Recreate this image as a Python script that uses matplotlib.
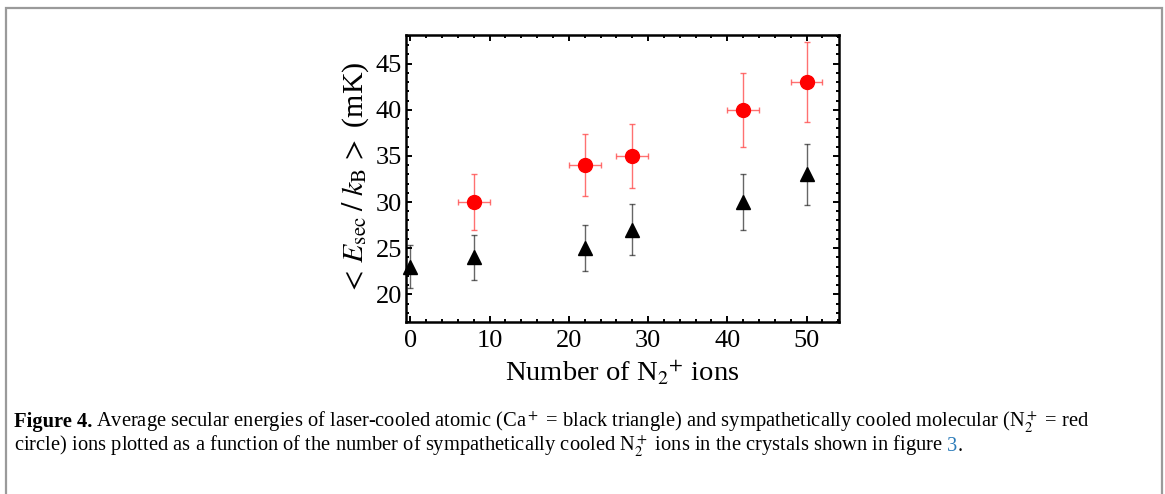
import matplotlib
matplotlib.use("Agg")
import matplotlib.pyplot as plt
from matplotlib.patches import Rectangle
from matplotlib.ticker import MultipleLocator

plt.rcParams["font.family"] = ["Liberation Serif", "DejaVu Serif"]
plt.rcParams["mathtext.fontset"] = "stix"

# N2+ (red circles)
mol_n = [8, 22, 28, 42, 50]
mol_e = [30, 34, 35, 40, 43]
mol_yerr = [3.0, 3.4, 3.5, 4.0, 4.3]
mol_xerr = [2, 2, 2, 2, 2]

# Ca+ (black triangles)
atom_n = [0, 8, 22, 28, 42, 50]
atom_e = [23, 24, 25, 27, 30, 33]
atom_yerr = [2.3, 2.4, 2.5, 2.75, 3.0, 3.3]

xticks = [0, 10, 20, 30, 40, 50]
yticks = [20, 25, 30, 35, 40, 45]

W, H = 1165, 494
fig = plt.figure(figsize=(W / 100, H / 100), dpi=100)

# thin grey frame round the figure (bottom edge is cut off)
fig.patches.append(Rectangle((6 / W, -0.1), 1156 / W, 1.1 - 8.5 / H,
                             transform=fig.transFigure, fill=False,
                             edgecolor="#9a9a9a", lw=1.6))

ax = fig.add_axes([406 / W, 1 - 322 / H, 433 / W, 287 / H])

ax.errorbar(mol_n, mol_e, yerr=mol_yerr, xerr=mol_xerr, fmt="o", color="red",
            ms=10, ecolor=(1, 0.3, 0.3, 0.8), elinewidth=1, capsize=2.5,
            capthick=1, zorder=3)
ax.errorbar(atom_n, atom_e, yerr=atom_yerr, fmt="^", color="black", ms=10,
            ecolor=(0, 0, 0, 0.6), elinewidth=1, capsize=2, capthick=1,
            zorder=3, clip_on=False)

ax.set_xlim(-0.55, 54.1)
ax.set_ylim(17, 48.1)
ax.set_xticks(xticks)
ax.set_yticks(yticks)
ax.xaxis.set_minor_locator(MultipleLocator(2))
ax.yaxis.set_minor_locator(MultipleLocator(1))
ax.tick_params(which="both", direction="in", top=True, right=True,
               labelsize=19, width=1.4)
ax.tick_params(which="major", length=4.5, pad=3)
ax.tick_params(axis="x", which="major", pad=6)
ax.tick_params(which="minor", length=2.2)
for s in ax.spines.values():
    s.set_linewidth(1.8)

ax.set_xlabel(r"Number of N$_{2}{}^{+}$ ions", fontsize=20.5, labelpad=5)
ax.set_ylabel(r"$<\,E_{\mathrm{sec}}\;/\;k_{\mathrm{B}}\,>$ (mK)", fontsize=21.5,
              labelpad=3)

# caption, written piece by piece so the bold head and the blue link fit
renderer = fig.canvas.get_renderer()
cap_size = 14.75


def put(x, y, s, **kw):
    t = fig.text(x / W, 1 - y / H, s, fontsize=cap_size, va="baseline",
                 ha="left", **kw)
    bb = t.get_window_extent(renderer)
    return x + bb.width


x = put(14, 427, "Figure 4.", fontweight="bold")
put(x + 4, 427, "Average secular energies of laser-cooled atomic (Ca$^+$ = black "
    "triangle) and sympathetically cooled molecular (N$_2^+$ = red")
x = put(14, 451, "circle) ions plotted as a function of the number of "
    "sympathetically cooled N$_2^+$ ions in the crystals shown in figure")
x = put(x + 4, 451, "3", color="#2b7bb9")
put(x, 451, ".")

fig.savefig("out.png", dpi=100)
